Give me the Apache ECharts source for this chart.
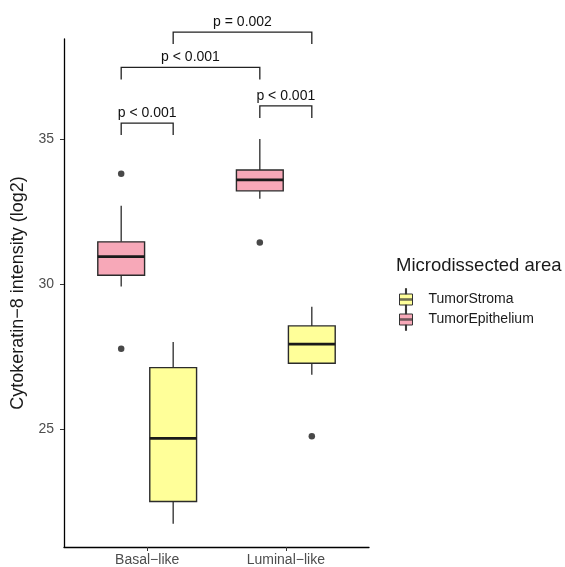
<!DOCTYPE html>
<html lang="en">
<head>
    <meta charset="UTF-8">
    <title>Cytokeratin-8 boxplot</title>
    <script type="text/javascript" src="https://cdn.jsdelivr.net/npm/echarts@6/dist/echarts.min.js"></script>
    <style>
        html, body { margin: 0; padding: 0; background: #fff; }
    </style>
</head>
<body>
<div id="main" style="width: 565px; height: 567px;"></div>

<script type="text/javascript">
    // categories on the x axis
    var categories = ['Basal−like', 'Luminal−like'];
    var seriesNames = ['TumorStroma', 'TumorEpithelium'];

    // box stats per category: [low whisker, Q1, median, Q3, high whisker]
    var stromaBoxes = [
        [21.72, 22.49, 24.67, 27.11, 27.99],
        [26.86, 27.26, 27.92, 28.55, 29.21]
    ];
    var epitheliumBoxes = [
        [29.91, 30.30, 30.94, 31.45, 32.70],
        [32.94, 33.21, 33.59, 33.93, 35.00]
    ];

    // outliers: [category index, value]
    var stromaOutliers = [[1, 24.74]];
    var epitheliumOutliers = [[0, 33.80], [0, 27.76], [1, 31.43]];

    // significance brackets: ends are [category index, group], group 'E' or 'S'
    var bracketEnds = [
        [[0, 'E'], [0, 'S']],
        [[1, 'E'], [1, 'S']],
        [[0, 'E'], [1, 'E']],
        [[0, 'S'], [1, 'S']]
    ];
    var bracketHeights = [35.55, 36.14, 37.47, 38.69];
    var bracketLabels = ['p < 0.001', 'p < 0.001', 'p < 0.001', 'p = 0.002'];

    var yTicks = [25, 30, 35];

    var DODGE = 0.1875;     // half of the dodge width
    var BOX_WIDTH = 0.3375;
    var FONT = "'Liberation Sans', Arial, Helvetica, sans-serif";

    function xPos(cat, group) {
        return cat + 1 + (group === 'E' ? -DODGE : DODGE);
    }

    function boxData(boxes, group) {
        return boxes.map(function (b, i) {
            return [xPos(i, group)].concat(b);
        });
    }

    function outlierData(list, group) {
        return list.map(function (o) {
            return [xPos(o[0], group), o[1]];
        });
    }

    function renderBox(params, api) {
        var x = api.value(0);
        var half = api.size([BOX_WIDTH, 0])[0] / 2;
        var low = api.coord([x, api.value(1)]);
        var q1 = api.coord([x, api.value(2)]);
        var med = api.coord([x, api.value(3)]);
        var q3 = api.coord([x, api.value(4)]);
        var high = api.coord([x, api.value(5)]);
        var line = { stroke: '#2b2b2b', lineWidth: 1.3 };
        return {
            type: 'group',
            children: [
                { type: 'line', shape: { x1: low[0], y1: low[1], x2: q1[0], y2: q1[1] }, style: line },
                { type: 'line', shape: { x1: q3[0], y1: q3[1], x2: high[0], y2: high[1] }, style: line },
                {
                    type: 'rect',
                    shape: { x: q3[0] - half, y: q3[1], width: half * 2, height: q1[1] - q3[1] },
                    style: { fill: api.visual('color'), stroke: '#2b2b2b', lineWidth: 1.4 }
                },
                {
                    type: 'line',
                    shape: { x1: med[0] - half, y1: med[1], x2: med[0] + half, y2: med[1] },
                    style: { stroke: '#1a1a1a', lineWidth: 2.6 }
                }
            ]
        };
    }

    function renderBracket(params, api) {
        var a = api.coord([api.value(0), api.value(2)]);
        var b = api.coord([api.value(1), api.value(2)]);
        var tip = 12;
        return {
            type: 'group',
            children: [
                {
                    type: 'polyline',
                    shape: { points: [[a[0], a[1] + tip], a, b, [b[0], b[1] + tip]] },
                    style: { stroke: '#222', lineWidth: 1.3, fill: null }
                },
                {
                    type: 'text',
                    x: (a[0] + b[0]) / 2,
                    y: a[1] - 3,
                    style: {
                        text: bracketLabels[params.dataIndex],
                        fontSize: 14, fontFamily: FONT, fill: '#111',
                        align: 'center', verticalAlign: 'bottom'
                    }
                }
            ]
        };
    }

    var bracketData = bracketEnds.map(function (e, i) {
        return [xPos(e[0][0], e[0][1]), xPos(e[1][0], e[1][1]), bracketHeights[i]];
    });

    var boxIcon = 'path://M5.5,0H6.5V5H5.5Z M0,5H12V15H0Z M5.5,15H6.5V20H5.5Z M0,9.5H12V10.5H0Z';
    var colors = { TumorStroma: '#FFFF99', TumorEpithelium: '#F7A8B8' };

    var myChart = echarts.init(document.getElementById('main'));
    myChart.setOption({
        animation: false,
        backgroundColor: '#fff',
        textStyle: { fontFamily: FONT },
        title: {
            text: 'Microdissected area',
            left: 396, top: 256, padding: 0,
            textStyle: { fontSize: 18.5, fontWeight: 'normal', color: '#1a1a1a', fontFamily: FONT }
        },
        legend: {
            orient: 'vertical',
            left: 399, top: 288,
            padding: 0,
            itemWidth: 13, itemHeight: 22, itemGap: -3,
            selectedMode: false,
            symbolKeepAspect: false,
            textStyle: { fontSize: 14, color: '#1a1a1a', fontFamily: FONT, padding: [0, 0, 0, 11] },
            data: seriesNames.map(function (n) {
                return {
                    name: n, icon: boxIcon,
                    itemStyle: { color: colors[n], borderColor: '#333', borderWidth: 1 }
                };
            })
        },
        grid: { left: 64, right: 196, top: 39, bottom: 19 },
        xAxis: {
            type: 'value', min: 0.4, max: 2.6,
            splitLine: { show: false },
            axisLine: { show: true, lineStyle: { color: '#000', width: 1.3 } },
            axisTick: { show: true, customValues: [1, 2], length: 4, lineStyle: { color: '#333' } },
            axisLabel: {
                customValues: [1, 2], margin: 6, fontSize: 14, color: '#4d4d4d',
                formatter: function (v) { return categories[Math.round(v) - 1]; }
            }
        },
        yAxis: {
            type: 'value', min: 20.92, max: 38.45,
            name: 'Cytokeratin−8 intensity (log2)',
            nameLocation: 'middle', nameGap: 33,
            nameTextStyle: { fontSize: 18, color: '#1a1a1a', fontFamily: FONT },
            splitLine: { show: false },
            axisLine: { show: true, lineStyle: { color: '#000', width: 1.3 } },
            axisTick: { show: true, customValues: yTicks, length: 4, lineStyle: { color: '#333' } },
            axisLabel: { customValues: yTicks, margin: 10, fontSize: 14, color: '#4d4d4d' }
        },
        series: [
            {
                name: 'TumorStroma', type: 'custom', color: colors.TumorStroma,
                renderItem: renderBox, encode: { x: 0, y: [1, 2, 3, 4, 5] },
                data: boxData(stromaBoxes, 'S')
            },
            {
                name: 'TumorEpithelium', type: 'custom', color: colors.TumorEpithelium,
                renderItem: renderBox, encode: { x: 0, y: [1, 2, 3, 4, 5] },
                data: boxData(epitheliumBoxes, 'E')
            },
            {
                type: 'scatter', symbolSize: 6.5, itemStyle: { color: '#1a1a1a' },
                data: outlierData(stromaOutliers, 'S').concat(outlierData(epitheliumOutliers, 'E'))
            },
            {
                type: 'custom', renderItem: renderBracket, clip: false,
                encode: { x: [0, 1], y: 2 },
                data: bracketData
            }
        ]
    });
</script>
</body>
</html>
